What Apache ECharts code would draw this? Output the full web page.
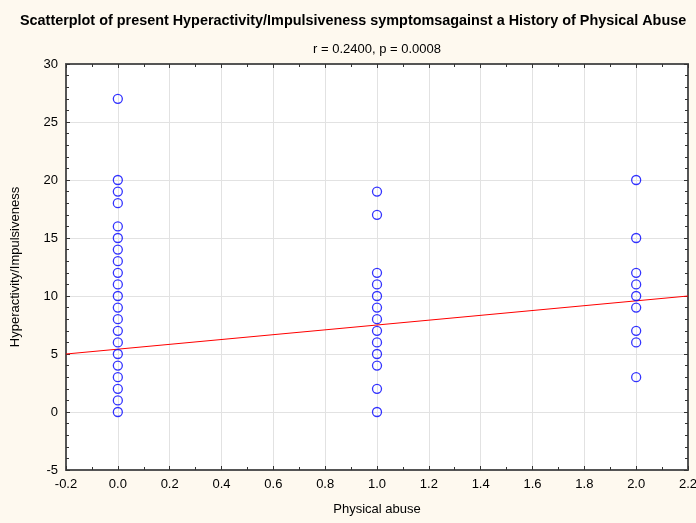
<!DOCTYPE html>
<html><head><meta charset="utf-8">
<script src="https://cdn.jsdelivr.net/npm/echarts@6/dist/echarts.min.js"></script>
<style>html,body{margin:0;padding:0;background:#FEF9EF;}#c{width:696px;height:523px;}</style>
</head><body><div id="c"></div>
<script>
const group0 = [27,20,19,18,16,15,14,13,12,11,10,9,8,7,6,5,4,3,2,1,0];
const group1 = [19,17,12,11,10,9,8,7,6,5,4,2,0];
const group2 = [20,15,12,11,10,9,7,6,3];
const abuseLevels = [0,1,2];
const fitLineX = [-0.2, 2.2];
const fitLineY = [5.0, 10.0];
const titleText = 'Scatterplot of present Hyperactivity/Impulsiveness symptomsagainst a History of Physical Abuse';
const subtitleText = 'r = 0.2400, p = 0.0008';

const points = [];
[group0, group1, group2].forEach((g, i) => g.forEach(v => points.push([abuseLevels[i], v])));
const fitLine = fitLineX.map((x, i) => [x, fitLineY[i]]);

const font = 'Liberation Sans, Arial, sans-serif';
const axisLine = {show:true, onZero:false, lineStyle:{color:'#555', width:2}};
const xCommon = {type:'value', min:-0.2, max:2.2, interval:0.2,
  axisLine, axisTick:{show:true, inside:true, length:4, lineStyle:{color:'#333'}},
  minorTick:{show:true, splitNumber:2, length:3, lineStyle:{color:'#333'}}};
const yCommon = {type:'value', min:-5, max:30, interval:5,
  axisLine, axisTick:{show:true, inside:true, length:4, lineStyle:{color:'#333'}},
  minorTick:{show:true, splitNumber:5, length:3, lineStyle:{color:'#333'}}};

const chart = echarts.init(document.getElementById('c'));
chart.setOption({
  backgroundColor:'#FEF9EF',
  animation:false,
  title:[
    {text:titleText, left:15, top:9, textStyle:{fontFamily:font, fontSize:14.4, fontWeight:'bold', color:'#000'}},
    {text:subtitleText, left:372, textAlign:'center', top:38, textStyle:{fontFamily:font, fontSize:13, fontWeight:'normal', color:'#000'}}
  ],
  grid:{left:66, right:8, top:64, bottom:53, show:true, backgroundColor:'#fff', borderWidth:0, outerBoundsMode:'none', containLabel:false},
  xAxis:[
    Object.assign({}, xCommon, {position:'bottom',
      name:'Physical abuse', nameLocation:'middle', nameGap:33,
      nameTextStyle:{fontFamily:font, fontSize:13, color:'#000'},
      axisLabel:{fontFamily:font, fontSize:13, color:'#000', margin:8, formatter:v=>v.toFixed(1)},
      splitLine:{show:true, lineStyle:{color:'#e2e2e2', width:1}}}),
    Object.assign({}, xCommon, {position:'top', axisLabel:{show:false}, splitLine:{show:false}})
  ],
  yAxis:[
    Object.assign({}, yCommon, {position:'left',
      name:'Hyperactivity/Impulsiveness', nameLocation:'middle', nameGap:44,
      nameTextStyle:{fontFamily:font, fontSize:13, color:'#000'},
      axisLabel:{fontFamily:font, fontSize:13, color:'#000', margin:8},
      splitLine:{show:true, lineStyle:{color:'#e2e2e2', width:1}}}),
    Object.assign({}, yCommon, {position:'right', axisLabel:{show:false}, splitLine:{show:false}})
  ],
  series:[
    {type:'line', data:fitLine, showSymbol:false, symbol:'none', lineStyle:{color:'#ff0000', width:1}, z:2},
    {type:'scatter', data:points, symbol:'circle', symbolSize:9,
     itemStyle:{color:'rgba(0,0,0,0)', borderColor:'#0000ff', borderWidth:1.3}, z:3}
  ]
});
</script></body></html>
